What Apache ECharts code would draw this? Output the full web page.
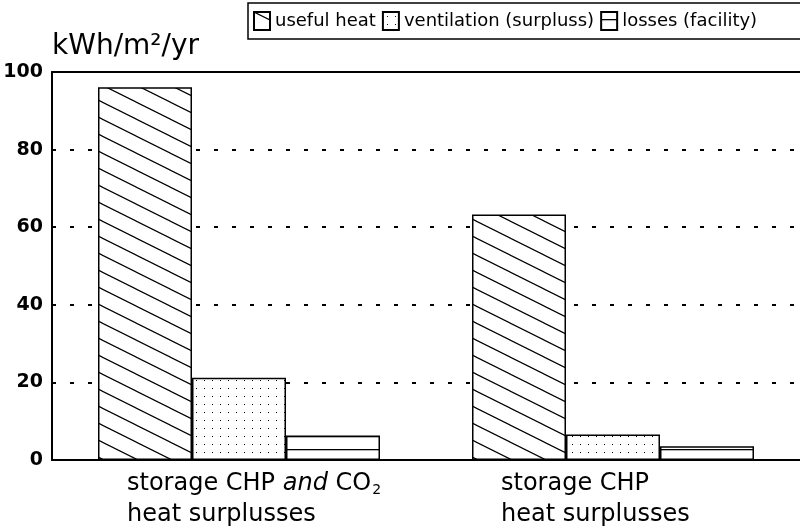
<!DOCTYPE html>
<html>
<head>
<meta charset="utf-8">
<script src="https://cdn.jsdelivr.net/npm/echarts@6/dist/echarts.min.js"></script>
<style>
html,body{margin:0;padding:0;background:#fff;}
#c{width:800px;height:530px;}
</style>
</head>
<body>
<div id="c"></div>
<script>
// ---- data ----
const categories = ['storage CHP and CO₂\nheat surplusses', 'storage CHP\nheat surplusses'];
const seriesNames = ['useful heat', 'ventilation (surpluss)', 'losses (facility)'];
const usefulHeat = [96.1, 63.3];
const ventilation = [21.2, 6.6];
const losses = [6.3, 3.55];
const yTicks = { min: 0, max: 100, interval: 20 };
const yUnit = 'kWh/m²/yr';

// ---- fill patterns ----
function makeTile(w, h, draw) {
  const c = document.createElement('canvas');
  c.width = w; c.height = h;
  const ctx = c.getContext('2d');
  ctx.fillStyle = '#fff';
  ctx.fillRect(0, 0, w, h);
  draw(ctx, w, h);
  return { image: c, repeat: 'repeat' };
}
const hatch = makeTile(34, 17, (ctx, w, h) => {
  ctx.strokeStyle = '#000';
  ctx.lineWidth = 1.2;
  for (let k = -1; k <= 1; k++) {
    ctx.beginPath();
    ctx.moveTo(-4, -2 + k * h);
    ctx.lineTo(w + 4, h + 2 + k * h);
    ctx.stroke();
  }
});
const dots = makeTile(8, 8, (ctx) => {
  ctx.fillStyle = '#000';
  ctx.fillRect(4, 4, 1, 1);
});
const hlines = makeTile(13, 13, (ctx, w) => {
  ctx.fillStyle = '#000';
  ctx.fillRect(0, 7, w, 1.3);
});

const FONT = 'DejaVu Sans';

function catFormatter(v) {
  return v.split('\n').map(line =>
    line.split(/( and |₂)/).filter(Boolean).map(p =>
      p === ' and ' ? '{a| }{i|and}{a| }' : p === '₂' ? '{s|2}' : '{a|' + p + '}'
    ).join('')
  ).join('\n');
}

const chart = echarts.init(document.getElementById('c'), null, { renderer: 'canvas' });
const barBase = {
  type: 'bar',
  barWidth: 94,
  barGap: '0%',
  emphasis: { disabled: true }
};
chart.setOption({
  animation: false,
  backgroundColor: '#fff',
  textStyle: { fontFamily: FONT, color: '#000' },
  grid: { left: 52, right: 0, top: 72, bottom: 70, containLabel: false, outerBoundsMode: 'none' },
  legend: {
    left: 248, top: 3,
    width: 700,
    orient: 'horizontal',
    padding: [8, 60, 8, 5],
    itemWidth: 16, itemHeight: 18, itemGap: 6,
    borderColor: '#000', borderWidth: 1.5,
    backgroundColor: '#fff',
    icon: 'rect',
    selectedMode: false,
    textStyle: { fontFamily: FONT, fontSize: 18, color: '#000' },
    data: seriesNames
  },
  xAxis: [{
    type: 'category',
    data: categories,
    axisLine: { show: true, lineStyle: { color: '#000', width: 2 } },
    axisTick: { show: false },
    splitLine: { show: false },
    axisLabel: {
      interval: 0,
      margin: 8,
      width: 224,
      overflow: 'none',
      align: 'center',
      color: '#000',
      formatter: catFormatter,
      rich: {
        a: { fontFamily: FONT, fontSize: 24, color: '#000', align: 'left', lineHeight: 31 },
        i: { fontFamily: FONT, fontSize: 24, color: '#000', align: 'left', fontStyle: 'italic', lineHeight: 31 },
        s: { fontFamily: FONT, fontSize: 14, color: '#000', align: 'left', lineHeight: 14, verticalAlign: 'bottom', padding: [0, 0, 2, 1] }
      }
    }
  }, {
    type: 'category',
    position: 'top',
    data: categories,
    axisLine: { show: true, lineStyle: { color: '#000', width: 2 } },
    axisTick: { show: false },
    axisLabel: { show: false },
    splitLine: { show: false }
  }],
  yAxis: {
    type: 'value',
    min: yTicks.min, max: yTicks.max, interval: yTicks.interval,
    name: yUnit,
    nameLocation: 'end',
    nameGap: 11,
    nameTextStyle: { fontFamily: FONT, fontSize: 28, color: '#000', align: 'left', verticalAlign: 'bottom' },
    axisLine: { show: true, lineStyle: { color: '#000', width: 2 } },
    axisTick: { show: false },
    axisLabel: { margin: 9, color: '#000', fontFamily: FONT, fontSize: 19, fontWeight: 'bold' },
    splitLine: { show: true, lineStyle: { color: '#000', width: 2, type: [4, 14] } }
  },
  series: [
    Object.assign({}, barBase, { name: seriesNames[0], data: usefulHeat, itemStyle: { color: hatch, borderColor: '#000', borderWidth: 1.5 } }),
    Object.assign({}, barBase, { name: seriesNames[1], data: ventilation, itemStyle: { color: dots, borderColor: '#000', borderWidth: 1.5 } }),
    Object.assign({}, barBase, { name: seriesNames[2], data: losses, itemStyle: { color: hlines, borderColor: '#000', borderWidth: 1.5 } })
  ]
});
</script>
</body>
</html>
